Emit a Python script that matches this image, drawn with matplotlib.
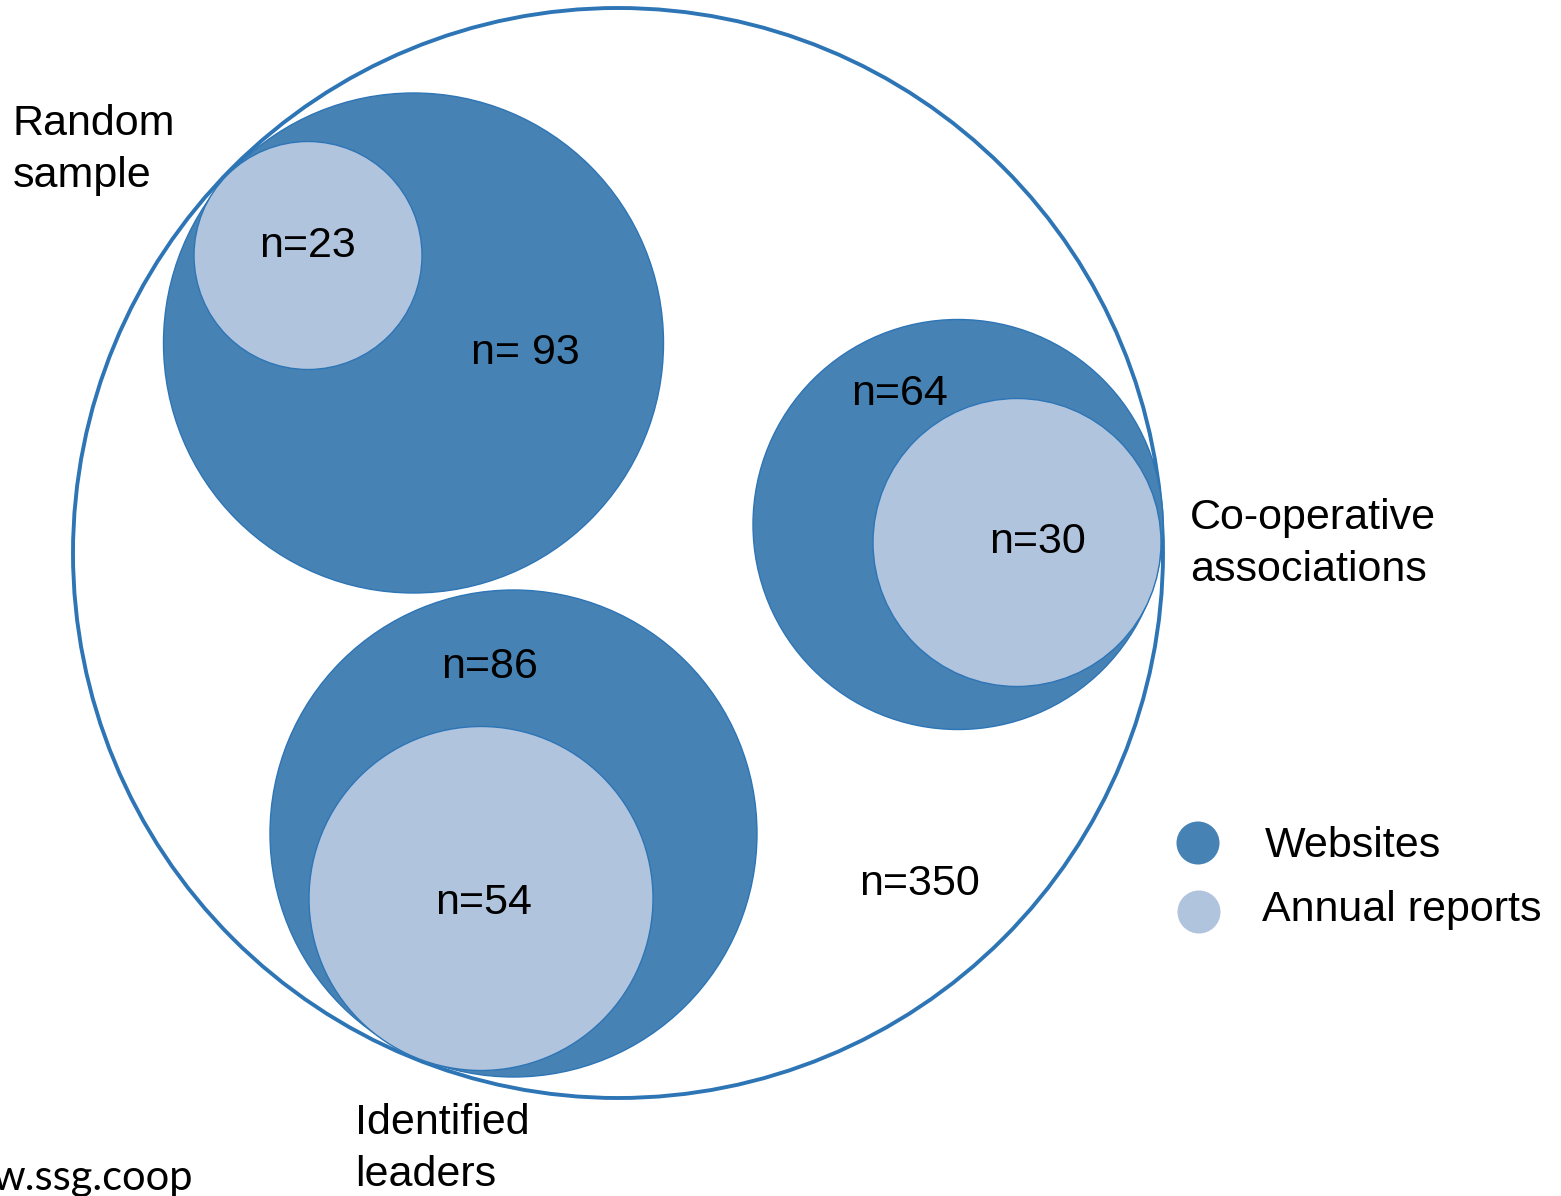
import matplotlib.pyplot as plt
from matplotlib.patches import Circle

# data
groups = ['Random\nsample', 'Co-operative\nassociations', 'Identified\nleaders']
websites = [93, 64, 86]
annual_reports = [23, 30, 54]
total = 350
legend_labels = ['Websites', 'Annual reports']
source = 'w.ssg.coop'

# layout (pixel coordinates, y down)
outer = (618, 553, 545)
web_circles = [(413.5, 343, 250), (958, 524.5, 205), (513.5, 833.5, 243.5)]
rep_circles = [(308, 255.5, 114), (1017, 542.5, 144), (481, 898.5, 172)]
web_text_pos = [(525, 353), (900, 394), (490, 667)]
rep_text_pos = [(308, 246), (1038, 542), (484, 903)]
group_text_pos = [(13, 150), (1190, 544), (355, 1149)]

dark = '#4682b4'
light = '#b0c4de'
edge = '#2e75b6'

fig = plt.figure(figsize=(15.61, 11.96), dpi=100)
ax = fig.add_axes([0, 0, 1, 1])
ax.set_xlim(0, 1561)
ax.set_ylim(1196, 0)
ax.set_aspect('equal')
ax.axis('off')

fs = 31
font = ['Liberation Sans', 'DejaVu Sans']

ax.add_patch(Circle(outer[:2], outer[2], facecolor='white', edgecolor=edge, lw=2.8, zorder=1))

for (x, y, r) in web_circles:
    ax.add_patch(Circle((x, y), r, facecolor=dark, edgecolor=edge, lw=1.0, zorder=2))
for (x, y, r) in rep_circles:
    ax.add_patch(Circle((x, y), r, facecolor=light, edgecolor=edge, lw=1.0, zorder=3))

for i, n in enumerate(websites):
    lab = f'n= {n}' if i == 0 else f'n={n}'
    ax.text(*web_text_pos[i], lab, fontsize=fs, family=font, ha='center', va='center', zorder=5)
for i, n in enumerate(annual_reports):
    ax.text(*rep_text_pos[i], f'n={n}', fontsize=fs, family=font, ha='center', va='center', zorder=5)
ax.text(920, 884, f'n={total}', fontsize=fs, family=font, ha='center', va='center', zorder=5)

for g, (x, y) in zip(groups, group_text_pos):
    ax.text(x, y, g, fontsize=fs, family=font, ha='left', va='center', linespacing=1.4, zorder=5)

# legend
ax.scatter([1198, 1199], [843, 912], s=[960, 960], c=[dark, light], edgecolors='none', zorder=5)
ax.text(1265, 846, legend_labels[0], fontsize=fs, family=font, ha='left', va='center')
ax.text(1262, 910, legend_labels[1], fontsize=fs, family=font, ha='left', va='center')

ax.text(-8, 1178, source, fontsize=30, family=['Lato', 'DejaVu Sans'], ha='left', va='center')

fig.savefig('out.png', dpi=100)
